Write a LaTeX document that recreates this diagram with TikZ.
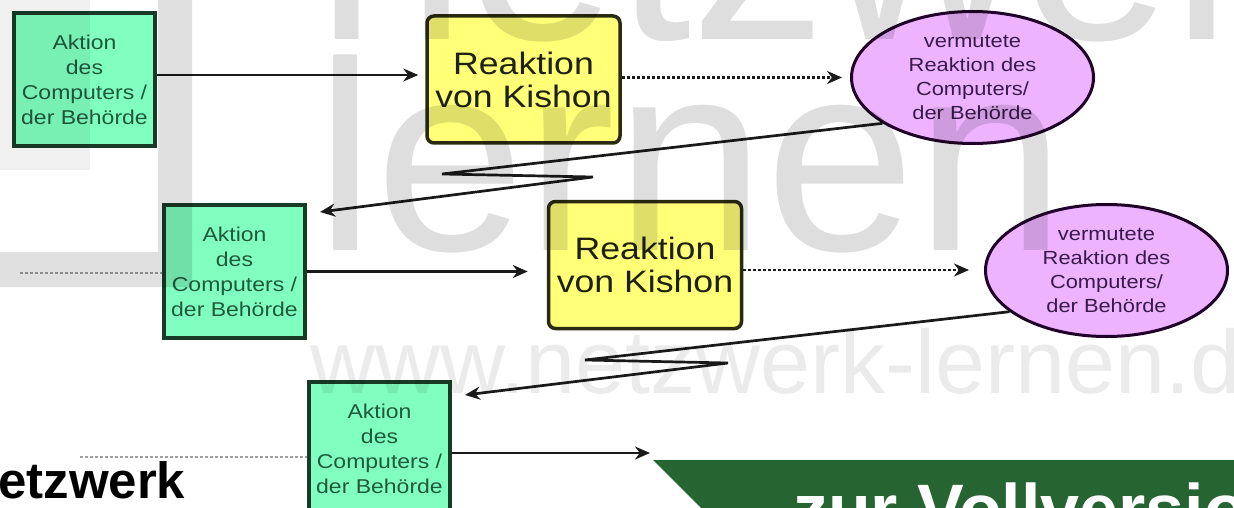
\documentclass[tikz,border=0pt]{standalone}
\usepackage{fontspec}
\setmainfont{Liberation Sans}
\newfontfamily\boxfont[FakeStretch=1.15]{Liberation Sans}
\usetikzlibrary{arrows.meta,shapes.geometric}
\definecolor{aqfill}{HTML}{80FFC0}
\definecolor{actline}{HTML}{1A3A28}
\definecolor{acttext}{HTML}{1F5A3A}
\definecolor{yelfill}{HTML}{FFFF78}
\definecolor{realine}{HTML}{2A2A10}
\definecolor{reatext}{HTML}{202010}
\definecolor{viofill}{HTML}{EDB3FF}
\definecolor{elline}{HTML}{200028}
\definecolor{elltext}{HTML}{3A1A4A}
\definecolor{arrcol}{HTML}{1A1A1A}
\definecolor{banner}{HTML}{266432}
\begin{document}
\begin{tikzpicture}[x=1pt,y=-1pt,
  actbox/.style={rectangle, draw=actline, line width=4pt, fill=aqfill, text=acttext,
    minimum width=141pt, minimum height=133pt, inner sep=0pt, align=center,
    font=\boxfont\fontsize{20}{25}\selectfont},
  reabox/.style={rectangle, draw=realine, line width=3.5pt, fill=yelfill, text=reatext,
    rounded corners=7pt, minimum width=193pt, minimum height=127pt, inner sep=0pt,
    align=center, font=\boxfont\fontsize{31}{33}\selectfont},
  ellbox/.style={ellipse, draw=elline, line width=3pt, fill=viofill, text=elltext,
    minimum width=242pt, minimum height=132pt, inner sep=0pt, align=center,
    font=\boxfont\fontsize{19}{24}\selectfont},
  conn/.style={line width=2.7pt, draw=arrcol, -{Stealth[length=15pt,width=13pt]}},
  dotconn/.style={conn, dash pattern=on 3pt off 2pt},
  grayline/.style={line width=2.5pt, draw=gray!75, dash pattern=on 3pt off 2pt},
  wmark/.style={anchor=base west, inner sep=0pt, text=black}
]
\useasboundingbox (0,0) rectangle (1234,508);
\clip (0,0) rectangle (1234,508);
\fill[white] (0,0) rectangle (1234,508);

% boxes
\node[actbox] (A1) at (84.5,80) {Aktion\\des\\Computers /\\der Behörde};
\node[reabox] (R1) at (523.5,79.5) {Reaktion\\von Kishon};
\node[ellbox] (E1) at (972.5,77.5) {vermutete\\Reaktion des\\Computers/\\der Behörde};

\node[actbox] (A2) at (234.5,271.5) {Aktion\\des\\Computers /\\der Behörde};
\node[reabox] (R2) at (645,265) {Reaktion\\von Kishon};
\node[ellbox] (E2) at (1106.5,270.5) {vermutete\\Reaktion des\\Computers/\\der Behörde};

\node[actbox] (A3) at (379.5,448.5) {Aktion\\des\\Computers /\\der Behörde};

% helper points
\coordinate (d2) at (20,273);
\coordinate (d3) at (80,457);
\coordinate (z1a) at (442,174);
\coordinate (z1b) at (593,177);
\coordinate (z2a) at (585,360);
\coordinate (z2b) at (728,363);
\coordinate (end3) at (650,453);

% connectors row 1
\draw[conn, shorten >=7pt] ([yshift=5pt]A1.east) -- ([yshift=5pt]A1.east -| R1.west);
\draw[dotconn, shorten >=8pt] ([yshift=2pt]R1.east) -- ([yshift=2pt]R1.east -| E1.west);
\draw[conn] (E1.207) -- (z1a) -- (z1b) -- ([xshift=13pt,yshift=-9pt]A2.north east);

% row 2
\draw[grayline] (d2) -- (d2 -| A2.west);
\draw[conn, shorten >=19pt] (A2.east) -- (A2.east -| R2.west);
\draw[dotconn, shorten >=15pt] ([yshift=-5pt]R2.east) -- ([yshift=-5pt]R2.east -| E2.west);
\draw[conn] (E2.203) -- (z2a) -- (z2b) -- ([xshift=13pt,yshift=-15pt]A3.north east);

% row 3
\draw[grayline] (d3) -- (d3 -| A3.west);
\draw[conn] ([yshift=-4.5pt]A3.east) -- (end3);

% watermark
\fill[black, fill opacity=0.06] (0,0) rectangle (90,170);
\fill[black, fill opacity=0.12] (158,0) rectangle (192,287) (0,252) rectangle (192,287);
\node[wmark, opacity=0.13, font=\fontsize{270}{270}\selectfont] (wm1) at (316,40) {netzwerk};
\node[wmark, opacity=0.13, font=\fontsize{270}{270}\selectfont] (wm2) at (315,250) {lernen};
\node[wmark, opacity=0.08, font=\fontsize{90}{90}\selectfont] (wm3) at (310,393) {www.netzwerk-lernen.de};

% overlay banner
\fill[banner] (653,460) -- (1240,460) -- (1240,515) -- (708,515) -- cycle;
\node[wmark, text=white, font=\bfseries\fontsize{70}{70}\selectfont] (ban) at (793,533) {zur Vollversio};
\node[wmark, font=\bfseries\fontsize{51}{51}\selectfont] (nw) at (-2,498) {etzwerk};
\end{tikzpicture}
\end{document}
